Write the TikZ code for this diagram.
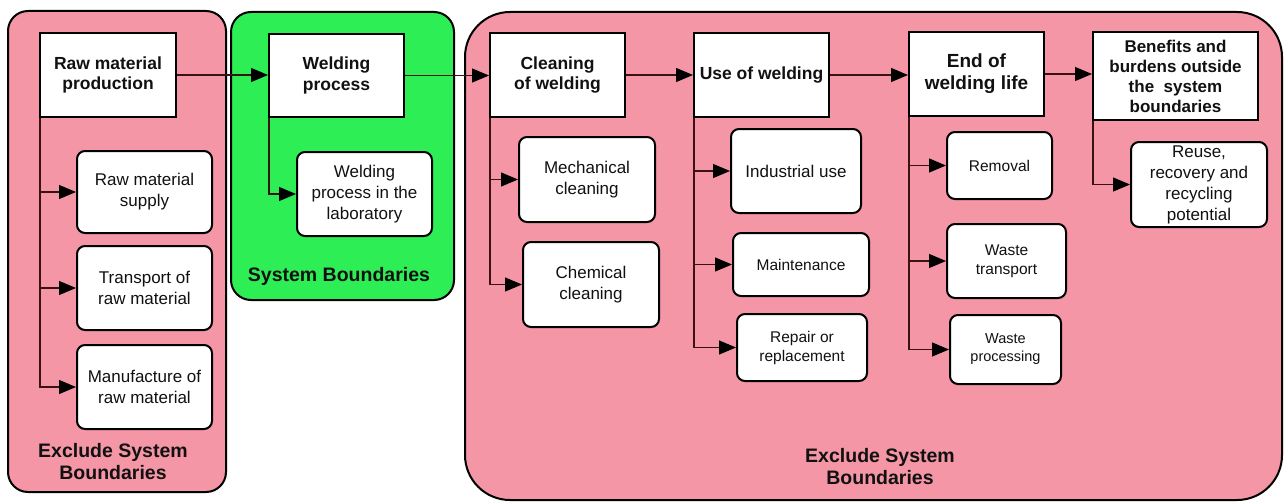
\documentclass[tikz,border=0pt]{standalone}
\usepackage{fontspec}
\setmainfont{Liberation Sans}
\usetikzlibrary{arrows.meta}
\definecolor{panelpink}{HTML}{F496A6}
\definecolor{panelgreen}{HTML}{2EEE55}
\definecolor{linec}{HTML}{3A1212}
\definecolor{txt}{HTML}{111111}
\tikzset{
  panel/.style={draw=black, line width=2pt},
  mainbox/.style={draw=black, fill=white, line width=2pt, inner sep=2pt, align=center, text=txt,
    font=\bfseries\fontsize{17.5}{20.5}\selectfont},
  subbox/.style={draw=black, fill=white, line width=2pt, rounded corners=8pt, inner sep=2pt, align=center, text=txt,
    font=\fontsize{17}{21}\selectfont},
  smallsub/.style={subbox, font=\fontsize{15.5}{19}\selectfont},
  tinysub/.style={subbox, font=\fontsize{14.5}{18}\selectfont},
  conn/.style={draw=linec, line width=1.2pt, -{Triangle[length=17pt,width=14pt,color=black]}},
  plabel/.style={align=center, text=txt, font=\bfseries\fontsize{19.5}{22}\selectfont},
}
\begin{document}
\begin{tikzpicture}[x=1pt,y=-1pt]
\useasboundingbox (0,0) rectangle (1287,503);
\fill[white] (0,0) rectangle (1287,503);
% panels
\draw[panel, fill=panelpink, rounded corners=20pt] (8,11) rectangle (226,492);
\draw[panel, fill=panelgreen, rounded corners=20pt] (231,12) rectangle (454,300);
\draw[panel, fill=panelpink, rounded corners=45pt] (465,12) rectangle (1282,500);
% panel labels
\node[plabel] (lbl1) at (113,462) {Exclude System\\Boundaries};
\node[plabel] (lbl2) at (339,276) {System Boundaries};
\node[plabel] (lbl3) at (880,467) {Exclude System\\Boundaries};
% main boxes
\node[mainbox, minimum width=136pt, minimum height=84pt] (raw) at (108,75) {Raw material\\production};
\node[mainbox, minimum width=135pt, minimum height=83pt] (weld) at (336.5,75.5) {Welding\\process};
\node[mainbox, minimum width=135pt, minimum height=84pt] (clean) at (557.5,75) {Cleaning\\of welding};
\node[mainbox, minimum width=135pt, minimum height=84pt] (use) at (761.5,75) {Use of welding};
\node[mainbox, minimum width=135pt, minimum height=84pt, font=\bfseries\fontsize{19}{22}\selectfont] (eol) at (976.5,74) {End of\\welding life};
\node[mainbox, minimum width=165pt, minimum height=88pt, font=\bfseries\fontsize{17}{20}\selectfont] (ben) at (1175.5,76) {Benefits and\\burdens outside\\the\ \ system\\boundaries};
% sub boxes
\node[subbox, minimum width=135pt, minimum height=82pt] (rms) at (144.5,192) {Raw material\\supply};
\node[subbox, minimum width=135pt, minimum height=84pt] (trans) at (144.5,288) {Transport of\\raw material};
\node[subbox, minimum width=135pt, minimum height=84pt] (manu) at (144.5,387) {Manufacture of\\raw material};
\node[subbox, minimum width=135pt, minimum height=84pt] (lab) at (364.5,194) {Welding\\process in the\\laboratory};
\node[subbox, minimum width=136pt, minimum height=85pt] (mech) at (587,179.5) {Mechanical\\cleaning};
\node[subbox, minimum width=136pt, minimum height=85pt] (chem) at (591,284.5) {Chemical\\cleaning};
\node[subbox, minimum width=130pt, minimum height=84pt] (ind) at (796,171) {Industrial use};
\node[smallsub, minimum width=136pt, minimum height=63pt] (maint) at (801,264.5) {Maintenance};
\node[smallsub, minimum width=130pt, minimum height=67pt] (rep) at (802,347.5) {Repair or\\replacement};
\node[smallsub, minimum width=105pt, minimum height=67pt] (rem) at (999.5,165.5) {Removal};
\node[smallsub, minimum width=119pt, minimum height=74pt] (wt) at (1006.5,261) {Waste\\transport};
\node[tinysub, minimum width=111pt, minimum height=69pt] (wp) at (1005.5,349.5) {Waste\\processing};
\node[subbox, minimum width=136pt, minimum height=85pt] (reuse) at (1199,184.5) {Reuse,\\recovery and\\recycling\\potential};
% main flow
\draw[conn] (raw.east) -- (raw.east -| weld.west);
\draw[conn] (weld.east) -- (weld.east -| clean.west);
\draw[conn] (clean.east) -- (clean.east -| use.west);
\draw[conn] (use.east) -- (use.east -| eol.west);
\draw[conn] (eol.east) -- (eol.east -| ben.west);
% branches
\draw[conn] ([xshift=1pt]raw.south west) |- (rms.west);
\draw[conn] ([xshift=1pt]raw.south west) |- (trans.west);
\draw[conn] ([xshift=1pt]raw.south west) |- (manu.west);
\draw[conn] ([xshift=1pt]weld.south west) |- (lab.west);
\draw[conn] ([xshift=1pt]clean.south west) |- (mech.west);
\draw[conn] ([xshift=1pt]clean.south west) |- (chem.west);
\draw[conn] ([xshift=1pt]use.south west) |- (ind.west);
\draw[conn] ([xshift=1pt]use.south west) |- (maint.west);
\draw[conn] ([xshift=1pt]use.south west) |- (rep.west);
\draw[conn] ([xshift=1pt]eol.south west) |- (rem.west);
\draw[conn] ([xshift=1pt]eol.south west) |- (wt.west);
\draw[conn] ([xshift=1pt]eol.south west) |- (wp.west);
\draw[conn] ([xshift=1pt]ben.south west) |- (reuse.west);
\end{tikzpicture}
\end{document}
